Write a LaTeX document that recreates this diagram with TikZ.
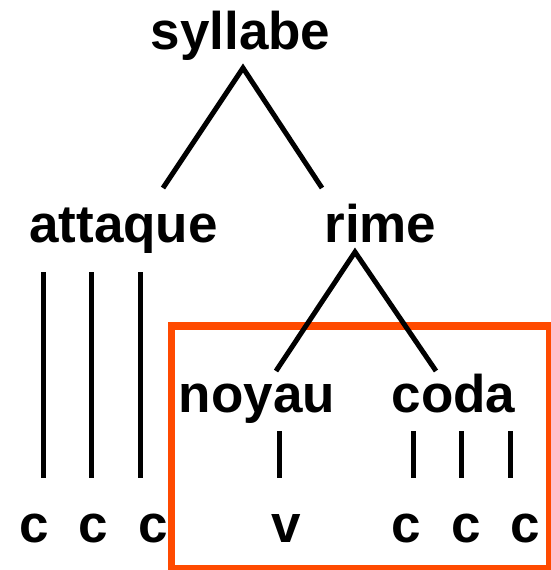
\documentclass[tikz,border=0pt]{standalone}
\usepackage{fontspec}
\setmainfont{Liberation Sans}
\definecolor{boxorange}{RGB}{255,74,0}
\begin{document}
\begin{tikzpicture}[x=1pt,y=-1pt,
  lbl/.style={anchor=base,inner sep=0pt,font=\fontsize{53}{60}\selectfont\bfseries},
  branch/.style={line width=5pt,black},
  frame/.style={line width=7.5pt,boxorange}]
\useasboundingbox[clip] (0,0) rectangle (551,570);
% labels
\node[lbl] (syl) at (240.5,49) {syllabe};
\node[lbl] (att) at (123.5,242) {attaque};
\node[lbl] (rim) at (380.5,242) {rime};
\node[lbl] (noy) at (257,412) {noyau};
\node[lbl] (cod) at (453.5,412) {coda};
\node[lbl] (c1) at (34,542) {c};
\node[lbl] (c2) at (93,542) {c};
\node[lbl] (c3) at (153,542) {c};
\node[lbl] (v1) at (286,542) {v};
\node[lbl] (c4) at (406,542) {c};
\node[lbl] (c5) at (466,542) {c};
\node[lbl] (c6) at (525,542) {c};
% branch points
\coordinate (sylA) at (243,68);
\coordinate (sylL) at (163,188);
\coordinate (sylR) at (322,188);
\coordinate (rimA) at (355,252);
\coordinate (rimL) at (276,371);
\coordinate (rimR) at (436,371);
\coordinate (a1t) at (43,272); \coordinate (a1b) at (43,478);
\coordinate (a2t) at (91,272); \coordinate (a2b) at (91,478);
\coordinate (a3t) at (140,272); \coordinate (a3b) at (140,478);
\coordinate (nvt) at (279,431); \coordinate (nvb) at (279,478);
\coordinate (k1t) at (413,431); \coordinate (k1b) at (413,478);
\coordinate (k2t) at (461,431); \coordinate (k2b) at (461,478);
\coordinate (k3t) at (510,431); \coordinate (k3b) at (510,478);
% frame
\coordinate (frNW) at (171.5,326);
\coordinate (frSE) at (549.5,568.5);
\draw[frame] (frNW) rectangle (frSE);
% branches
\draw[branch] (sylL) -- (sylA) -- (sylR);
\draw[branch] (rimL) -- (rimA) -- (rimR);
\draw[branch] (a1t) -- (a1b);
\draw[branch] (a2t) -- (a2b);
\draw[branch] (a3t) -- (a3b);
\draw[branch] (nvt) -- (nvb);
\draw[branch] (k1t) -- (k1b);
\draw[branch] (k2t) -- (k2b);
\draw[branch] (k3t) -- (k3b);
\end{tikzpicture}
\end{document}
